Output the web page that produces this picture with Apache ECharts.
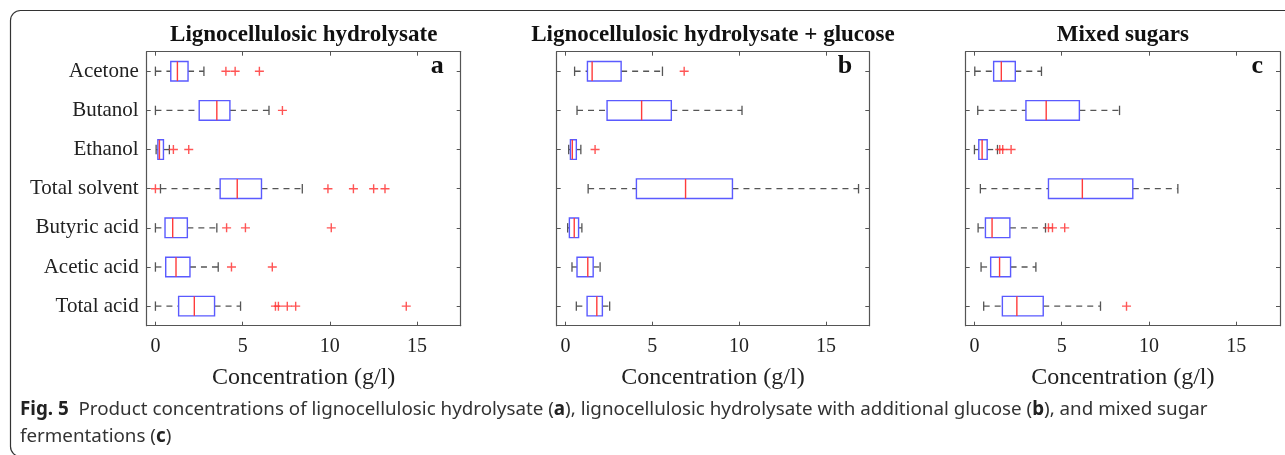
<!DOCTYPE html>
<html>
<head>
<meta charset="utf-8">
<script src="https://cdn.jsdelivr.net/npm/echarts@6/dist/echarts.min.js"></script>
<style>
  html, body { margin: 0; padding: 0; background: #fff; }
  #chart { width: 1285px; height: 455px; }
</style>
</head>
<body>
<div id="chart"></div>
<script>
  const categories = ['Acetone', 'Butanol', 'Ethanol', 'Total solvent', 'Butyric acid', 'Acetic acid', 'Total acid']
  const xTicks = [0, 5, 10, 15]
  const panelTitles = ['Lignocellulosic hydrolysate', 'Lignocellulosic hydrolysate + glucose', 'Mixed sugars']
  const panelLetters = ['a', 'b', 'c']

  // each row: [min, q1, median, q3, max]
  const hydrolysateBoxes = [
    [0.0, 0.88, 1.26, 1.87, 2.78],
    [0.0, 2.51, 3.52, 4.27, 6.51],
    [0.04, 0.14, 0.23, 0.46, 0.80],
    [0.29, 3.71, 4.69, 6.08, 8.42],
    [0.0, 0.55, 0.99, 1.83, 3.52],
    [0.0, 0.59, 1.18, 1.98, 3.60],
    [0.0, 1.33, 2.23, 3.39, 4.88]
  ]
  const hydrolysateOutliers = [
    [4.04, 4.57, 5.96],
    [7.28],
    [1.03, 1.91],
    [0.0, 9.89, 11.35, 12.51, 13.16],
    [4.08, 5.16, 10.08],
    [4.36, 6.70],
    [6.88, 7.05, 7.56, 8.04, 14.38]
  ]

  const glucoseBoxes = [
    [0.53, 1.27, 1.54, 3.21, 5.59],
    [0.67, 2.40, 4.39, 6.10, 10.17],
    [0.19, 0.29, 0.40, 0.63, 0.89],
    [1.31, 4.09, 6.92, 9.62, 16.88],
    [0.13, 0.23, 0.51, 0.76, 0.95],
    [0.38, 0.67, 1.29, 1.60, 2.00],
    [0.63, 1.25, 1.81, 2.13, 2.55]
  ]
  const glucoseOutliers = [[6.84], [], [1.71], [], [], [], []]

  const mixedBoxes = [
    [0.02, 1.10, 1.54, 2.34, 3.84],
    [0.19, 2.95, 4.11, 6.01, 8.31],
    [0.0, 0.25, 0.44, 0.73, 1.32],
    [0.34, 4.24, 6.18, 9.07, 11.65],
    [0.21, 0.63, 1.01, 2.03, 4.07],
    [0.38, 0.93, 1.44, 2.07, 3.52],
    [0.53, 1.60, 2.43, 3.94, 7.22]
  ]
  const mixedOutliers = [[], [], [1.45, 1.62, 2.10], [], [4.24, 4.47, 5.17], [], [8.71]]

  const panelBoxes = [hydrolysateBoxes, glucoseBoxes, mixedBoxes]
  const panelOutliers = [hydrolysateOutliers, glucoseOutliers, mixedOutliers]

  const serif = '"Liberation Serif", "Times New Roman", serif'
  const sans = '"Noto Sans", "Liberation Sans", sans-serif'
  const frameColor = '#555'
  const textColor = '#222'
  const plus = 'path://M3.8,0H5.2V3.8H9V5.2H5.2V9H3.8V5.2H0V3.8H3.8Z'

  const grids = [
    { left: 146.7, top: 51.7, width: 314, height: 274 },
    { left: 556.7, top: 51.7, width: 312.6, height: 274 },
    { left: 965.7, top: 51.7, width: 314.3, height: 274 }
  ]

  function renderBox(params, api) {
    const cat = api.value(0)
    const lo = api.coord([api.value(1), cat])
    const q1 = api.coord([api.value(2), cat])
    const md = api.coord([api.value(3), cat])
    const q3 = api.coord([api.value(4), cat])
    const hi = api.coord([api.value(5), cat])
    const band = api.size([0, 1])[1]
    const h = band * 0.5
    const cap = band * 0.12
    const y = md[1]
    const whisker = { stroke: '#555', lineWidth: 1.3, lineDash: [6, 5] }
    const capStyle = { stroke: '#555', lineWidth: 1.3 }
    return {
      type: 'group',
      children: [
        { type: 'line', shape: { x1: lo[0], y1: y, x2: q1[0], y2: y }, style: whisker },
        { type: 'line', shape: { x1: q3[0], y1: y, x2: hi[0], y2: y }, style: whisker },
        { type: 'line', shape: { x1: lo[0], y1: y - cap, x2: lo[0], y2: y + cap }, style: capStyle },
        { type: 'line', shape: { x1: hi[0], y1: y - cap, x2: hi[0], y2: y + cap }, style: capStyle },
        { type: 'rect', shape: { x: q1[0], y: y - h / 2, width: q3[0] - q1[0], height: h },
          style: { fill: '#fff', stroke: '#5a5aff', lineWidth: 1.4 } },
        { type: 'line', shape: { x1: md[0], y1: y - h / 2, x2: md[0], y2: y + h / 2 },
          style: { stroke: '#ff3b3b', lineWidth: 1.4 } }
      ]
    }
  }

  const xAxes = []
  const yAxes = []
  const series = []
  const graphics = [
    { type: 'rect', shape: { x: 10.5, y: 10.5, width: 1300, height: 446, r: 10 },
      style: { fill: 'none', stroke: '#333', lineWidth: 1.2 }, silent: true }
  ]

  for (let i = 0; i < 3; i++) {
    const axisLine = { show: true, onZero: false, lineStyle: { color: frameColor, width: 1.2 } }
    const tick = { show: true, inside: true, length: 4, customValues: xTicks, lineStyle: { color: frameColor } }
    xAxes.push({
      gridIndex: i, type: 'value', min: -0.5, max: 17.5, position: 'bottom',
      name: 'Concentration (g/l)', nameLocation: 'middle', nameGap: 40,
      nameTextStyle: { fontFamily: serif, fontSize: 24, color: textColor },
      axisLine: axisLine, axisTick: tick,
      axisLabel: { customValues: xTicks, fontFamily: serif, fontSize: 20, color: textColor, margin: 11 },
      splitLine: { show: false }
    })
    xAxes.push({
      gridIndex: i, type: 'value', min: -0.5, max: 17.5, position: 'top',
      axisLine: axisLine, axisTick: tick, axisLabel: { show: false }, splitLine: { show: false }
    })
    const yTick = { show: true, inside: true, length: 4, alignWithLabel: true, lineStyle: { color: frameColor } }
    yAxes.push({
      gridIndex: i, type: 'category', data: categories, inverse: true, position: 'left',
      axisLine: axisLine, axisTick: yTick,
      axisLabel: { show: i === 0, fontFamily: serif, fontSize: 21, color: textColor, margin: 8 }
    })
    yAxes.push({
      gridIndex: i, type: 'category', data: categories, inverse: true, position: 'right',
      axisLine: axisLine, axisTick: yTick, axisLabel: { show: false }
    })

    series.push({
      type: 'custom', xAxisIndex: 2 * i, yAxisIndex: 2 * i,
      renderItem: renderBox,
      encode: { x: [1, 2, 3, 4, 5], y: 0 },
      data: panelBoxes[i].map((b, k) => [k].concat(b)),
      z: 2
    })
    const pts = []
    panelOutliers[i].forEach((vals, k) => vals.forEach(v => pts.push([v, k])))
    series.push({
      type: 'scatter', xAxisIndex: 2 * i, yAxisIndex: 2 * i,
      symbol: plus, symbolSize: 9,
      itemStyle: { color: '#ff2a2a' },
      data: pts, z: 3
    })

    const g = grids[i]
    graphics.push({
      type: 'text', silent: true,
      style: { text: panelTitles[i], x: g.left + g.width / 2, y: 35.5, textAlign: 'center', textVerticalAlign: 'middle',
        fontFamily: serif, fontSize: 23, fontWeight: 'bold', fill: '#111' }
    })
    graphics.push({
      type: 'text', silent: true,
      style: { text: panelLetters[i], x: g.left + g.width - 17, y: 66, textAlign: 'right', textVerticalAlign: 'middle',
        fontFamily: serif, fontSize: 26, fontWeight: 'bold', fill: '#111' }
    })
  }

  const capFont = 18.8
  const bold = { fontFamily: sans, fontSize: capFont, fontWeight: 'bold', fill: '#222' }
  graphics.push({
    type: 'text', silent: true,
    style: {
      text: '{b|Fig. 5}  Product concentrations of lignocellulosic hydrolysate ({b|a}), lignocellulosic hydrolysate with additional glucose ({b|b}), and mixed sugar',
      x: 20, y: 410, textVerticalAlign: 'middle',
      fontFamily: sans, fontSize: capFont, fill: '#333',
      rich: { b: bold }
    }
  })
  graphics.push({
    type: 'text', silent: true,
    style: {
      text: 'fermentations ({b|c})',
      x: 20, y: 437, textVerticalAlign: 'middle',
      fontFamily: sans, fontSize: capFont, fill: '#333',
      rich: { b: bold }
    }
  })

  const chart = echarts.init(document.getElementById('chart'))
  chart.setOption({
    animation: false,
    backgroundColor: '#fff',
    grid: grids.map(g => Object.assign({ outerBoundsMode: 'none', containLabel: false }, g)),
    xAxis: xAxes,
    yAxis: yAxes,
    series: series,
    graphic: graphics
  })
</script>
</body>
</html>
